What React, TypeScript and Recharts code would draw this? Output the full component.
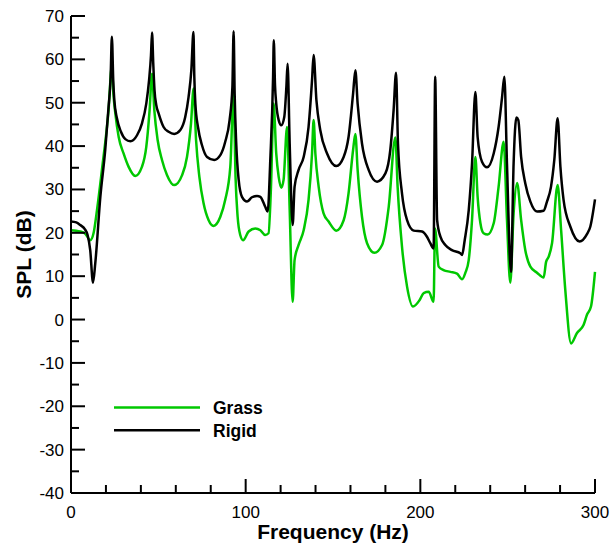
import { LineChart, Line, XAxis, YAxis, Legend } from "recharts";

const FONT = "'Liberation Sans', Arial, Helvetica, sans-serif";

const rigidFreq = [
  0, 3, 5.3, 8, 9.5, 11, 12.6, 13.9, 16.8, 19.6,
  21.5, 22.7, 23.4, 24.2, 24.8, 26.3, 28.6, 31.1, 34, 37.8,
  40.6, 43.1, 44.7, 45.8, 46.4, 47.1, 47.8, 48.8, 50.2, 53,
  55.9, 59.1, 62.6, 65.4, 67.3, 68.9, 70.1, 70.6, 71.2, 72.7,
  75, 77.9, 82, 85.5, 88.3, 90.8, 92.4, 93.1, 93.7, 94.6,
  96, 97.9, 100.8, 103.6, 106.5, 108.4, 111.2, 112.6, 114.1, 115.7,
  116.1, 116.8, 117.5, 118.9, 120.4, 122.1, 123.3, 124, 125.2, 126.9,
  128, 130.3, 133.2, 136, 138, 138.9, 140.5, 142.7, 146.6, 151.9,
  156.1, 158.9, 161.5, 162.8, 164.1, 166.6, 170.4, 175.2, 180, 182.8,
  184.7, 186.1, 187.2, 189.5, 192.4, 196.2, 201, 203.8, 205.7, 207.6,
  208.5, 209.6, 211.5, 214.3, 218.1, 222.9, 223.9, 225.4, 227.7, 229.6,
  231.5, 232.8, 235.3, 238.2, 242, 244.8, 246.8, 248.1, 249.6, 251.9,
  253.4, 255, 256.1, 257.7, 260.1, 263, 266.8, 270.6, 272.5, 274.8,
  276.7, 278.6, 280.2, 282, 285.9, 291.2, 295.4, 297.3, 300,
];
const rigidSpl = [
  22.6, 22.4, 21.8, 20.8, 19.5, 16, 8.5, 13, 28.3, 39.1,
  49, 56, 65.2, 55, 50.6, 46.4, 43.3, 41.6, 41.1, 42.5,
  45.2, 49.8, 55.2, 61, 66.2, 59, 53, 49.5, 47.5, 44.4,
  43.3, 42.8, 43.7, 46.7, 51.3, 57.5, 66.3, 56, 49.8, 44.4,
  40.2, 37.5, 36.8, 37.9, 41, 46, 53.6, 66.5, 52, 40.6,
  32.2, 28.3, 27.2, 28.2, 28.5, 28.3, 26, 24.9, 36.8, 56,
  64.4, 54, 49.8, 46, 44.8, 46.7, 53.6, 59, 40.6, 21.8,
  30.6, 34.5, 37.5, 44.4, 55.2, 61, 50.6, 43.7, 38.3, 35.4,
  37.5, 42.1, 52.1, 57.5, 49.8, 40.6, 34.5, 31.8, 33.7, 39.1,
  48.3, 56.9, 40.6, 29.1, 22.9, 20.5, 20.3, 19.1, 17.6, 16.4,
  56, 23, 19.1, 17.2, 16, 15.3, 14.9, 18.3, 25.2, 36,
  52.5, 42.1, 36.4, 35.1, 38.3, 44.4, 51.3, 56, 36, 11,
  36, 46.6, 46, 37.5, 31.4, 27.2, 24.9, 25.1, 27.2, 30.6,
  36.8, 46.4, 35.2, 27.6, 21.4, 18, 19.7, 21.4, 27.7,
];

const grassFreq = [
  0, 3, 5.3, 8.2, 11, 12.9, 14.9, 17.7, 21.5, 23.4,
  24.3, 25.4, 27.3, 30.1, 33, 36.8, 40.6, 43.1, 45, 46.4,
  47.7, 49.6, 52.1, 55, 59.1, 63.6, 66.4, 68.7, 70.2, 71.6,
  73.5, 75.9, 78.8, 81.6, 85.5, 88.3, 91.2, 93.1, 94.2, 95.4,
  96.9, 98.5, 101.7, 105.5, 108.4, 111.2, 113.1, 114.5, 116, 117.5,
  118.9, 120.4, 121.7, 123.7, 125.2, 126.9, 128, 130.3, 133.2, 136,
  138, 138.9, 139.9, 141.8, 144.6, 147.5, 151.9, 156.1, 158.9, 161.5,
  162.8, 164.1, 166.6, 169.5, 173.7, 178.1, 181.9, 185.7, 187, 189.5,
  192.4, 195.8, 199.6, 201.9, 204.8, 207.6, 208.4, 210.5, 213.3, 217.2,
  221, 223.9, 225.8, 227.7, 229.6, 231.5, 232.8, 234.4, 236.2, 238.5,
  242, 244.8, 247.7, 249.6, 251.5, 253.4, 255.4, 257.7, 260.1, 263,
  266.8, 270.6, 272, 273.5, 275.4, 278.6, 280.6, 283, 286.3, 289.7,
  293.5, 295.4, 297.7, 300,
];
const grassSpl = [
  20.6, 20.5, 20.3, 19.8, 18.3, 19.9, 25.3, 34.5, 48.3, 58.6,
  52, 47.5, 42.1, 38.3, 35.2, 33.1, 35.2, 39.8, 48.3, 56.7,
  48.3, 41.4, 36.8, 33.3, 31, 33.3, 37.5, 45.2, 53.3, 41.4,
  32.9, 26.8, 22.9, 21.6, 23.7, 27.6, 35.2, 52.5, 32.9, 23.7,
  19.5, 18.3, 20.3, 21, 20.6, 19.5, 19.9, 30.6, 49.8, 38.3,
  32.9, 30.4, 32.2, 44.4, 25.3, 4.1, 13.7, 17.2, 20.6, 27.6,
  38.3, 46, 38.3, 30.6, 24.5, 22.6, 20.5, 22.9, 29.1, 39.1,
  42.8, 34.5, 23.7, 17.6, 15.4, 17.2, 26, 42, 30.6, 16.8,
  7.6, 3, 4.5, 6.1, 6.4, 4.1, 21, 12.2, 11.4, 11,
  10.6, 9.3, 10.8, 13.7, 23, 37.5, 28.3, 22.2, 19.9, 19.6,
  22.2, 30.6, 41, 23, 8.5, 24.5, 31.5, 23, 16, 12.2,
  10.8, 9.7, 13.3, 14.5, 17.6, 31, 20.6, 6.8, -5.5, -3.1,
  -1.2, 1.1, 3, 11,
];

const xTicks = [0, 20, 40, 60, 80, 100, 120, 140, 160, 180, 200, 220, 240, 260, 280, 300];
const yTicks = [-40, -35, -30, -25, -20, -15, -10, -5, 0, 5, 10, 15, 20, 25, 30, 35, 40, 45, 50, 55, 60, 65, 70];

const toPoints = (fs: number[], vs: number[]) => fs.map((f, i) => ({ f, v: vs[i] }));
const grassData = toPoints(grassFreq, grassSpl);
const rigidData = toPoints(rigidFreq, rigidSpl);

function XTick(props: any) {
  const { x, y, payload } = props;
  const major = payload.value % 100 === 0;
  return (
    <g>
      <line x1={x} y1={y} x2={x} y2={y - (major ? 14 : 8)} stroke="#000" strokeWidth={2} />
      {major && (
        <text x={x} y={y + 25} textAnchor="middle" fontSize={17} fontFamily={FONT} fill="#000">
          {payload.value}
        </text>
      )}
    </g>
  );
}

function YTick(props: any) {
  const { x, y, payload } = props;
  const major = payload.value % 10 === 0;
  return (
    <g>
      <line x1={x} y1={y} x2={x + (major ? 14 : 8)} y2={y} stroke="#000" strokeWidth={2} />
      {major && (
        <text x={x - 7} y={y + 6} textAnchor="end" fontSize={17} fontFamily={FONT} fill="#000">
          {payload.value}
        </text>
      )}
    </g>
  );
}

function YLabel(props: any) {
  const vb = props.viewBox || { x: 0, y: 16, height: 477 };
  const cx = vb.x + 31;
  const cy = vb.y + vb.height / 2;
  return (
    <text
      x={cx}
      y={cy}
      transform={`rotate(-90 ${cx} ${cy})`}
      textAnchor="middle"
      fontSize={21}
      fontWeight="bold"
      fontFamily={FONT}
      fill="#000"
    >
      SPL (dB)
    </text>
  );
}

function XLabel(props: any) {
  const vb = props.viewBox || { x: 71, y: 493, width: 524 };
  return (
    <text
      x={vb.x + vb.width / 2}
      y={vb.y + 46}
      textAnchor="middle"
      fontSize={21}
      fontWeight="bold"
      fontFamily={FONT}
      fill="#000"
    >
      Frequency (Hz)
    </text>
  );
}

function LegendBox(props: any) {
  const items = props.payload || [];
  return (
    <svg width={170} height={44}>
      {items.map((e: any, i: number) => (
        <g key={e.value}>
          <line x1={0} x2={86} y1={9.5 + i * 22.7} y2={9.5 + i * 22.7} stroke={e.color} strokeWidth={2.5} />
          <text x={99} y={16 + i * 22.7} fontSize={17.5} fontWeight="bold" fontFamily={FONT} fill="#000">
            {e.value}
          </text>
        </g>
      ))}
    </svg>
  );
}

export default function App() {
  return (
    <div style={{ position: "absolute", left: 0, top: 0, width: 616, height: 546, background: "#fff" }}>
      <LineChart width={616} height={546} margin={{ top: 16, right: 21, bottom: 0, left: 0 }}>
        <XAxis
          type="number"
          dataKey="f"
          domain={[0, 300]}
          ticks={xTicks}
          interval={0}
          height={53}
          tickSize={0}
          tickMargin={0}
          tickLine={false}
          axisLine={{ stroke: "#000", strokeWidth: 2 }}
          tick={(p: any) => <XTick {...p} />}
          label={{ content: (p: any) => <XLabel {...p} /> }}
        />
        <YAxis
          type="number"
          domain={[-40, 70]}
          ticks={yTicks}
          interval={0}
          width={71}
          tickSize={0}
          tickMargin={0}
          tickLine={false}
          axisLine={{ stroke: "#000", strokeWidth: 2 }}
          tick={(p: any) => <YTick {...p} />}
          label={{ content: (p: any) => <YLabel {...p} /> }}
        />
        <Legend
          layout="vertical"
          align="center"
          verticalAlign="middle"
          wrapperStyle={{ left: 114, top: 398, width: 170, height: 44 }}
          content={(p: any) => <LegendBox {...p} />}
        />
        <Line
          data={grassData}
          dataKey="v"
          name="Grass"
          type="monotoneX"
          stroke="#00c800"
          strokeWidth={2.5}
          strokeLinejoin="round"
          dot={false}
          activeDot={false}
          isAnimationActive={false}
        />
        <Line
          data={rigidData}
          dataKey="v"
          name="Rigid"
          type="monotoneX"
          stroke="#000"
          strokeWidth={2.5}
          strokeLinejoin="round"
          dot={false}
          activeDot={false}
          isAnimationActive={false}
        />
      </LineChart>
    </div>
  );
}
